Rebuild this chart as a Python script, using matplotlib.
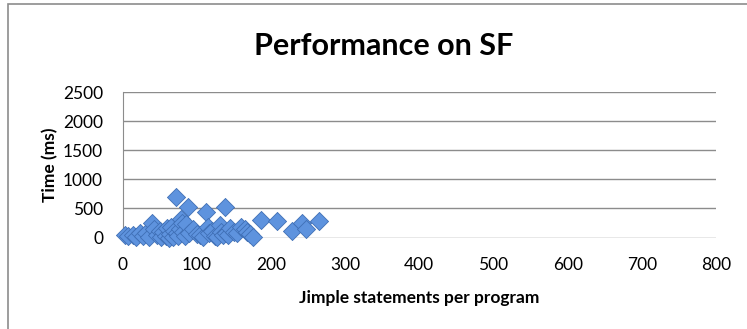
import numpy as np
import matplotlib
matplotlib.use("Agg")
import matplotlib.pyplot as plt
from matplotlib.patches import Rectangle

plt.rcParams['font.family'] = ['Lato', 'DejaVu Sans']

# statements per program vs. analysis time (ms)
statements = [3, 8, 14, 18, 23, 27, 32, 36, 40, 43, 46, 50, 52, 55, 58, 60,
              62, 64, 66, 68, 70, 72, 73, 75, 77, 79, 80, 82, 84, 86, 88, 90,
              95, 100, 104, 108, 113, 115, 117, 120, 125, 127, 131, 133, 136,
              138, 140, 142, 145, 150, 154, 160, 165, 168, 172, 176, 187, 208,
              228, 242, 247, 265]
time_ms = [50, 20, 45, 10, 70, 30, 75, 15, 250, 150, 40, 120, 10, 90, 20, 170,
           0, 60, 180, 10, 120, 700, 70, 20, 150, 320, 250, 100, 30, 240, 530, 80,
           150, 60, 40, 10, 440, 180, 70, 120, 30, 10, 220, 100, 50,
           530, 80, 40, 160, 100, 80, 180, 150, 100, 60, 10, 300, 280,
           110, 250, 140, 290]

x_ticks = [0, 100, 200, 300, 400, 500, 600, 700, 800]
y_ticks = [0, 500, 1000, 1500, 2000, 2500]

fig = plt.figure(figsize=(7.47, 3.29), dpi=100)
ax = fig.add_axes([0.164, 0.278, 0.7945, 0.4415])

# outer chart border (open on the right and bottom, as in the crop)
fig.patches.append(Rectangle((8 / 747, -0.05), 1.0, 1.05 - 4 / 329,
                             transform=fig.transFigure, fill=False,
                             edgecolor='#8c8c8c', linewidth=1.2))

ax.scatter(statements, time_ms, marker='D', s=85, color='#5e93de',
           edgecolor='#3f6fb5', linewidth=0.6, zorder=3, clip_on=False)

ax.set_xlim(0, 800)
ax.set_ylim(0, 2500)
ax.set_xticks(x_ticks)
ax.set_yticks(y_ticks)
ax.tick_params(length=0, labelsize=12.5)
ax.tick_params(axis='x', pad=14)
ax.tick_params(axis='y', pad=14)
ax.yaxis.grid(True, color='#8c8c8c', linewidth=1)
ax.set_axisbelow(True)
for side in ['top', 'right', 'bottom']:
    ax.spines[side].set_visible(False)
ax.spines['left'].set_color('#8c8c8c')

fig.text(384 / 747, 1 - 46 / 329, "Performance on SF", fontsize=22,
         fontweight='bold', ha='center', va='center')
ax.set_xlabel("Jimple statements per program", fontsize=12.5, fontweight='bold', labelpad=12)
ax.set_ylabel("Time (ms)", fontsize=12.5, fontweight='bold', va='center')
ax.yaxis.set_label_coords(-0.1225, 0.5)

fig.savefig("out.png", dpi=100)
